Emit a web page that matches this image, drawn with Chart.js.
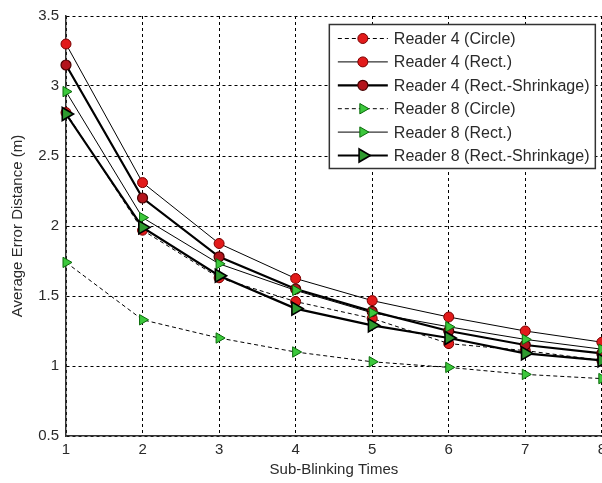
<!DOCTYPE html>
<html>
<head>
<meta charset="utf-8">
<script src="https://cdn.jsdelivr.net/npm/chart.js@4/dist/chart.umd.min.js"></script>
<style>
html,body{margin:0;padding:0;background:#fff;overflow:hidden;width:602px;height:483px;}
#wrap{position:relative;width:611px;height:483px;}
</style>
</head>
<body>
<div id="wrap"><canvas id="c" width="611" height="483"></canvas></div>
<script>
// ---- data ----
const subBlinkingTimes = [1, 2, 3, 4, 5, 6, 7, 8];
const seriesLabels = [
  'Reader 4 (Circle)',
  'Reader 4 (Rect.)',
  'Reader 4 (Rect.-Shrinkage)',
  'Reader 8 (Circle)',
  'Reader 8 (Rect.)',
  'Reader 8 (Rect.-Shrinkage)'
];
const reader4Circle    = [2.81, 1.97, 1.63, 1.46, 1.34, 1.16, 1.11, 1.04];
const reader4Rect      = [3.30, 2.31, 1.875, 1.625, 1.467, 1.35, 1.25, 1.17];
const reader4Shrink    = [3.15, 2.20, 1.78, 1.55, 1.39, 1.25, 1.15, 1.09];
const reader8Circle    = [1.74, 1.33, 1.20, 1.10, 1.03, 0.99, 0.94, 0.91];
const reader8Rect      = [2.96, 2.06, 1.73, 1.54, 1.38, 1.28, 1.19, 1.12];
const reader8Shrink    = [2.80, 1.99, 1.645, 1.41, 1.29, 1.20, 1.09, 1.04];
const yTickValues      = [0.5, 1, 1.5, 2, 2.5, 3, 3.5];

// ---- styles ----
const FONT = "'Liberation Sans', Arial, sans-serif";
const TEXT = '#2a2a2a';
const styles = [
  {dash:[4,3], width:1,   style:'circle',   rot:0,  r:5,   fill:'#e21b1b', border:'#7a0000', bw:1},
  {dash:[],    width:1,   style:'circle',   rot:0,  r:5,   fill:'#e21b1b', border:'#7a0000', bw:1},
  {dash:[],    width:2.2, style:'circle',   rot:0,  r:5,   fill:'#b3141c', border:'#4a0000', bw:1.2},
  {dash:[4,3], width:1,   style:'triangle', rot:90, r:6,   fill:'#3cc83c', border:'#0a6a0a', bw:1},
  {dash:[],    width:1,   style:'triangle', rot:90, r:6,   fill:'#3cc83c', border:'#0a6a0a', bw:1},
  {dash:[],    width:2.2, style:'triangle', rot:90, r:7.5, fill:'#2f9a2f', border:'#000000', bw:1.6}
];
const seriesValues = [reader4Circle, reader4Rect, reader4Shrink, reader8Circle, reader8Rect, reader8Shrink];

const datasets = seriesValues.map((vals, i) => {
  const s = styles[i];
  return {
    label: seriesLabels[i],
    data: subBlinkingTimes.map((x, j) => ({x: x, y: vals[j]})),
    borderColor: '#000',
    borderWidth: s.width,
    borderDash: s.dash,
    pointStyle: s.style,
    pointRotation: s.rot,
    pointRadius: s.r,
    pointBackgroundColor: s.fill,
    pointBorderColor: s.border,
    pointBorderWidth: s.bw,
    tension: 0,
    fill: false,
    clip: 8,
    order: 10 - i
  };
});

const legendPlugin = {
  id: 'boxLegend',
  afterDatasetsDraw(chart) {
    const ctx = chart.ctx;
    const a = chart.chartArea;
    const left = a.right - 273, top = a.top + 8, w = 266, h = 144;
    ctx.save();
    ctx.fillStyle = '#fff';
    ctx.fillRect(left, top, w, h);
    ctx.strokeStyle = '#333';
    ctx.lineWidth = 1.5;
    ctx.setLineDash([]);
    ctx.strokeRect(left + 0.5, top + 0.5, w, h);
    chart.data.datasets.forEach((ds, i) => {
      const y = top + 14.5 + i * 23.4;
      const x0 = left + 9, x1 = left + 59, xm = left + 34;
      ctx.beginPath();
      ctx.setLineDash(ds.borderDash);
      ctx.lineWidth = ds.borderWidth;
      ctx.strokeStyle = '#000';
      ctx.moveTo(x0, y); ctx.lineTo(x1, y);
      ctx.stroke();
      ctx.setLineDash([]);
      ctx.fillStyle = ds.pointBackgroundColor;
      ctx.strokeStyle = ds.pointBorderColor;
      ctx.lineWidth = ds.pointBorderWidth;
      Chart.helpers.drawPoint(ctx, {pointStyle: ds.pointStyle, rotation: ds.pointRotation, radius: ds.pointRadius, borderWidth: ds.pointBorderWidth}, xm, y);
      ctx.fillStyle = TEXT;
      ctx.font = "16px " + FONT;
      ctx.textBaseline = 'middle';
      ctx.textAlign = 'left';
      ctx.fillText(ds.label, left + 65, y + 1);
    });
    ctx.restore();
  }
};

new Chart(document.getElementById('c'), {
  type: 'line',
  data: {datasets},
  plugins: [legendPlugin],
  options: {
    responsive: false,
    animation: false,
    layout: {padding: {left: 0, right: 0, top: 15, bottom: 0}},
    plugins: {legend: {display: false}, tooltip: {enabled: false}},
    scales: {
      x: {
        type: 'linear', min: 1, max: 8,
        afterBuildTicks: s => { s.ticks = subBlinkingTimes.map(v => ({value: v})); },
        afterFit: s => { s.height = 47; },
        grid: {color: '#000', lineWidth: 1, drawTicks: false},
        border: {display: true, color: '#333', width: 1.5, dash: [3, 3]},
        ticks: {color: TEXT, font: {family: FONT, size: 15}, padding: 5, maxRotation: 0, callback: v => String(v)},
        title: {display: true, text: 'Sub-Blinking Times', color: TEXT, font: {family: FONT, size: 15}, padding: {top: 0, bottom: 4}}
      },
      y: {
        type: 'linear', min: 0.5, max: 3.5,
        afterBuildTicks: s => { s.ticks = yTickValues.map(v => ({value: v})); },
        afterFit: s => { s.width = 66; },
        grid: {color: '#000', lineWidth: 1, drawTicks: false},
        border: {display: true, color: '#333', width: 1.5, dash: [3, 3]},
        ticks: {color: TEXT, font: {family: FONT, size: 15}, padding: 7, callback: v => String(v)},
        title: {display: true, text: 'Average Error Distance (m)', color: TEXT, font: {family: FONT, size: 15}, padding: {top: 9, bottom: 0}}
      }
    }
  }
});
</script>
</body>
</html>
